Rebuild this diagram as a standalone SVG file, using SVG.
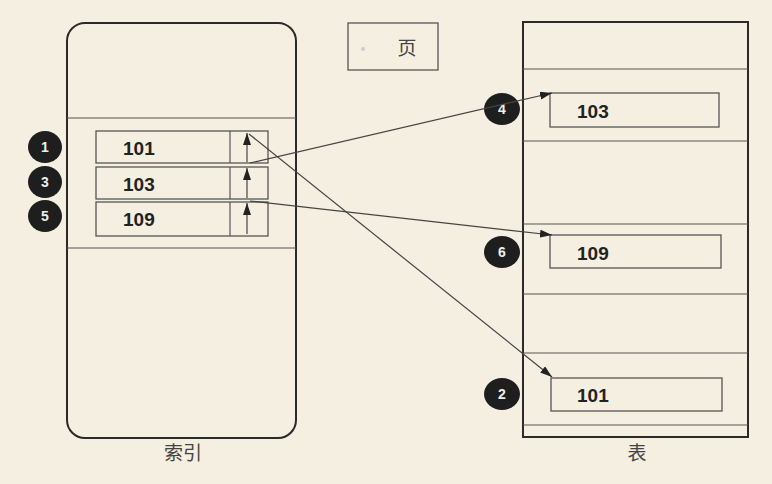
<svg xmlns="http://www.w3.org/2000/svg" width="772" height="484" viewBox="0 0 772 484">
<defs>
<marker id="ah" viewBox="0 0 12 8" refX="12" refY="4" markerWidth="12" markerHeight="8" markerUnits="userSpaceOnUse" orient="auto">
<path d="M0,0 L12,4 L0,8 Z" fill="#222"/>
</marker>
</defs>
<style>
.frame{fill:none;stroke:#2a2a2a;stroke-width:2}
.thin{fill:none;stroke:#555;stroke-width:1.2}
.box{fill:none;stroke:#555;stroke-width:1.3}
.val{font-family:"Liberation Sans",Arial,sans-serif;font-size:19px;font-weight:bold;fill:#222}
.num{font-family:"Liberation Sans",Arial,sans-serif;font-size:14px;font-weight:bold;fill:#eee;text-anchor:middle}
.dot{fill:#1e1e1e}
.cap{font-family:"Liberation Serif","Noto Sans CJK SC",serif;font-size:19px;fill:#444;text-anchor:middle}
.conn{fill:none;stroke:#444;stroke-width:1.2}
</style>
<rect width="772" height="484" fill="#f4efe0"/>

<g id="index">
<rect class="frame" x="67" y="23" width="229" height="415" rx="18"/>
<line class="thin" x1="67" y1="118" x2="296" y2="118"/>
<line class="thin" x1="67" y1="248" x2="296" y2="248"/>
<text class="cap" x="183" y="460">索引</text>
</g>

<g id="row101">
<rect class="box" x="96" y="131" width="172" height="32"/>
<line class="thin" x1="230" y1="131" x2="230" y2="163"/>
<text class="val" x="123" y="155">101</text>
<line class="conn" x1="247" y1="162" x2="247" y2="133" marker-end="url(#ah)"/>
</g>
<g id="row103">
<rect class="box" x="96" y="167" width="172" height="32"/>
<line class="thin" x1="230" y1="167" x2="230" y2="199"/>
<text class="val" x="123" y="191">103</text>
<line class="conn" x1="247" y1="198" x2="247" y2="168" marker-end="url(#ah)"/>
</g>
<g id="row109">
<rect class="box" x="96" y="202" width="172" height="34"/>
<line class="thin" x1="230" y1="202" x2="230" y2="236"/>
<text class="val" x="123" y="226">109</text>
<line class="conn" x1="247" y1="234" x2="247" y2="203" marker-end="url(#ah)"/>
</g>

<g id="badge1"><ellipse class="dot" cx="45" cy="147" rx="17" ry="16"/><text class="num" x="45" y="152">1</text></g>
<g id="badge3"><ellipse class="dot" cx="45" cy="182" rx="17" ry="16"/><text class="num" x="45" y="187">3</text></g>
<g id="badge5"><ellipse class="dot" cx="45" cy="216" rx="17" ry="16"/><text class="num" x="45" y="221">5</text></g>

<g id="legend">
<rect class="box" x="348" y="23" width="90" height="47"/>
<circle cx="363" cy="49" r="2" fill="#ccc"/>
<text class="cap" x="407" y="55">页</text>
</g>

<g id="table">
<rect class="frame" x="523" y="22" width="225" height="415"/>
<line class="thin" x1="523" y1="69" x2="748" y2="69"/>
<line class="thin" x1="523" y1="141" x2="748" y2="141"/>
<line class="thin" x1="523" y1="224" x2="748" y2="224"/>
<line class="thin" x1="523" y1="294" x2="748" y2="294"/>
<line class="thin" x1="523" y1="353" x2="748" y2="353"/>
<line class="thin" x1="523" y1="425" x2="748" y2="425"/>
<text class="cap" x="637" y="460">表</text>
</g>

<g id="t103">
<rect class="box" x="550" y="93" width="169" height="34"/>
<text class="val" x="577" y="118">103</text>
</g>
<g id="t109">
<rect class="box" x="550" y="235" width="171" height="33"/>
<text class="val" x="577" y="260">109</text>
</g>
<g id="t101">
<rect class="box" x="551" y="378" width="171" height="33"/>
<text class="val" x="577" y="402">101</text>
</g>

<g id="badge4"><ellipse class="dot" cx="502" cy="109" rx="18" ry="16"/><text class="num" x="502" y="114">4</text></g>
<g id="badge6"><ellipse class="dot" cx="502" cy="252" rx="18" ry="16"/><text class="num" x="502" y="257">6</text></g>
<g id="badge2"><ellipse class="dot" cx="502" cy="394" rx="18" ry="16"/><text class="num" x="502" y="399">2</text></g>

<g id="connectors">
<line class="conn" x1="249" y1="134" x2="552" y2="377" marker-end="url(#ah)"/>
<line class="conn" x1="250" y1="163" x2="552" y2="93" marker-end="url(#ah)"/>
<line class="conn" x1="250" y1="201" x2="552" y2="235" marker-end="url(#ah)"/>
</g>
</svg>
